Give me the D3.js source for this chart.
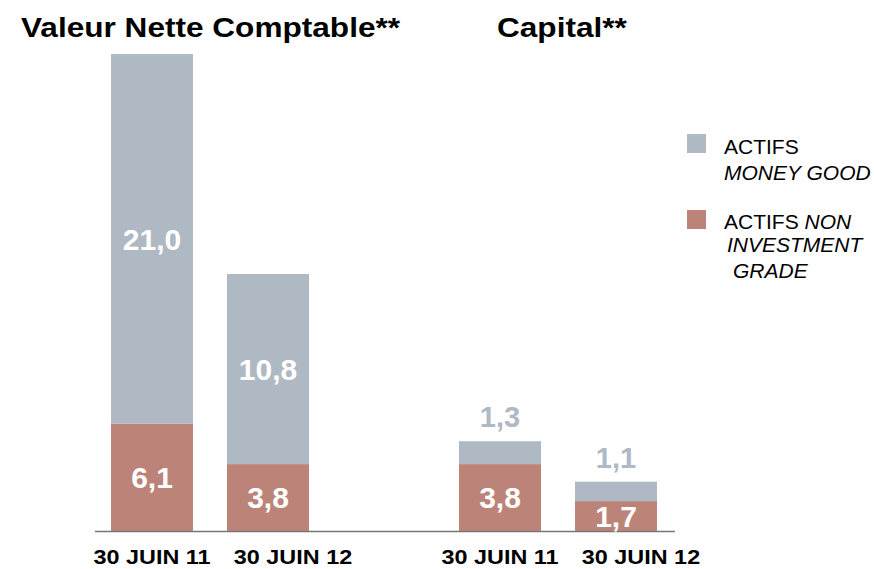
<!DOCTYPE html>
<html>
<head>
<meta charset="utf-8">
<script src="https://cdn.jsdelivr.net/npm/d3@7"></script>
<style>
  body { margin: 0; background: #fff; }
  text { font-family: "Liberation Sans", Arial, sans-serif; }
</style>
</head>
<body>
<div id="container"></div>
<script>
var width = 874;
var height = 569;

var groups = ["Valeur Nette Comptable**", "Capital**"];
var periods = ["30 JUIN 11", "30 JUIN 12"];
// values per group, per period
var nonInvestment = [[6.1, 3.8], [3.8, 1.7]];
var moneyGood = [[21.0, 10.8], [1.3, 1.1]];

var greyColor = "#afb9c3";
var redColor = "#bc8479";

var baseline = 531;
var stretch = 1.17; // titles and period labels are drawn a bit wide

var svg = d3.select("#container")
    .append("svg")
    .attr("width", width)
    .attr("height", height);

var xGroup = d3.scaleBand()
    .domain(d3.range(groups.length))
    .range([111, 657])
    .paddingInner(0.431)
    .paddingOuter(0);

var xPeriod = d3.scaleBand()
    .domain(d3.range(periods.length))
    .range([0, xGroup.bandwidth()])
    .paddingInner(0.293)
    .paddingOuter(0);

var yScale = d3.scaleLinear()
    .domain([0, 27.1])
    .range([baseline, 54]);

// flatten data into bars
var bars = [];
groups.forEach(function (g, gi) {
    periods.forEach(function (p, pi) {
        bars.push({
            gi: gi, pi: pi, period: p,
            low: nonInvestment[gi][pi],
            high: moneyGood[gi][pi]
        });
    });
});

function fmt(v) { return v.toFixed(1).replace(".", ","); }
function barX(d) { return xGroup(d.gi) + xPeriod(d.pi); }
function barMid(d) { return barX(d) + xPeriod.bandwidth() / 2; }

// bottom segments
svg.selectAll("rect.low")
    .data(bars)
    .enter()
    .append("rect")
    .attr("class", "low")
    .attr("x", barX)
    .attr("width", xPeriod.bandwidth())
    .attr("y", function (d) { return yScale(d.low); })
    .attr("height", function (d) { return yScale(0) - yScale(d.low); })
    .attr("fill", redColor);

// top segments
svg.selectAll("rect.high")
    .data(bars)
    .enter()
    .append("rect")
    .attr("class", "high")
    .attr("x", barX)
    .attr("width", xPeriod.bandwidth())
    .attr("y", function (d) { return yScale(d.low + d.high); })
    .attr("height", function (d) { return yScale(d.low) - yScale(d.low + d.high); })
    .attr("fill", greyColor);

// baseline
svg.append("line")
    .attr("x1", 95)
    .attr("x2", 675)
    .attr("y1", baseline + 0.5)
    .attr("y2", baseline + 0.5)
    .attr("stroke", "#777")
    .attr("stroke-width", 1.5);

// value labels in the bottom segments
svg.selectAll("text.lowlab")
    .data(bars)
    .enter()
    .append("text")
    .attr("x", barMid)
    .attr("y", function (d) { return (yScale(0) + yScale(d.low)) / 2; })
    .attr("dy", "0.36em")
    .attr("text-anchor", "middle")
    .attr("font-size", "30px")
    .attr("font-weight", "bold")
    .attr("fill", "#fff")
    .text(function (d) { return fmt(d.low); });

// value labels for top segments (inside for big ones, above for small ones)
svg.selectAll("text.highlab")
    .data(bars)
    .enter()
    .append("text")
    .attr("x", barMid)
    .attr("y", function (d) {
        if (d.gi === 0) return (yScale(d.low) + yScale(d.low + d.high)) / 2;
        return yScale(d.low + d.high) - 14;
    })
    .attr("dy", function (d) { return d.gi === 0 ? "0.36em" : "0"; })
    .attr("text-anchor", "middle")
    .attr("font-size", function (d) { return d.gi === 0 ? "30px" : "29px"; })
    .attr("font-weight", "bold")
    .attr("fill", function (d) { return d.gi === 0 ? "#fff" : greyColor; })
    .text(function (d) { return fmt(d.high); });

// period labels (second one sits a little to the right of its bar)
var labelShift = [0, 25];
svg.selectAll("text.cat")
    .data(bars)
    .enter()
    .append("text")
    .attr("transform", function (d) {
        return "translate(" + (barMid(d) + labelShift[d.pi]) + ",564) scale(" + stretch + ",1)";
    })
    .attr("text-anchor", "middle")
    .attr("font-size", "20px")
    .attr("font-weight", "bold")
    .attr("fill", "#000")
    .text(function (d) { return d.period; });

// group titles
var titleX = [21, 497];
svg.selectAll("text.title")
    .data(groups)
    .enter()
    .append("text")
    .attr("transform", function (d, i) {
        return "translate(" + titleX[i] + ",37) scale(" + stretch + ",1)";
    })
    .attr("font-size", "27px")
    .attr("font-weight", "bold")
    .attr("fill", "#000")
    .text(function (d) { return d; });

// legend
var legend = svg.append("g");
legend.append("rect").attr("x", 687).attr("y", 134).attr("width", 19).attr("height", 19).attr("fill", greyColor);
legend.append("rect").attr("x", 687).attr("y", 210).attr("width", 19).attr("height", 19).attr("fill", redColor);

var l1 = legend.append("text").attr("font-size", "21px").attr("fill", "#000");
l1.append("tspan").attr("x", 724).attr("y", 154).text("ACTIFS");
l1.append("tspan").attr("x", 724).attr("y", 180).attr("font-style", "italic").text("MONEY GOOD");

var l2 = legend.append("text").attr("font-size", "21px").attr("fill", "#000");
l2.append("tspan").attr("x", 724).attr("y", 229).text("ACTIFS ");
l2.append("tspan").attr("font-style", "italic").text("NON");
l2.append("tspan").attr("x", 727).attr("y", 252).attr("font-style", "italic").text("INVESTMENT");
l2.append("tspan").attr("x", 733).attr("y", 278).attr("font-style", "italic").text("GRADE");
</script>
</body>
</html>
